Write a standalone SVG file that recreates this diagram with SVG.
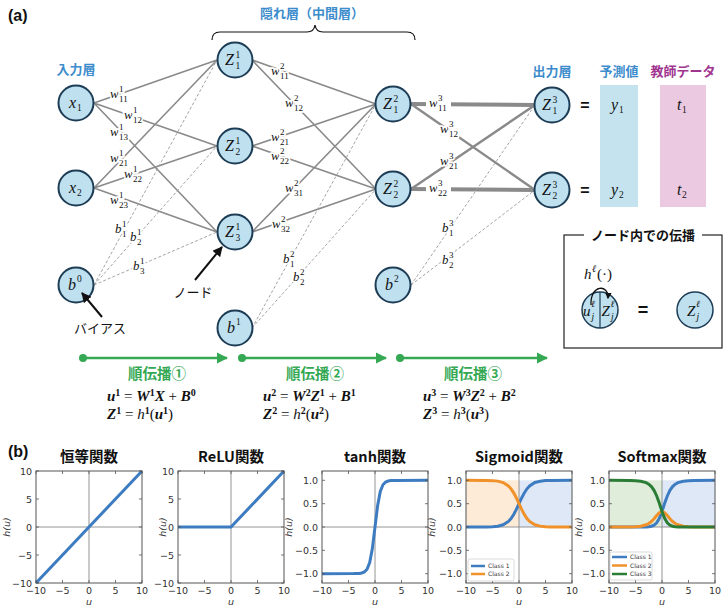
<svg xmlns="http://www.w3.org/2000/svg" width="728" height="610" viewBox="0 0 728 610">
<style>
.m{font-family:"Liberation Serif","DejaVu Serif",serif;font-style:italic;fill:#111}
.nl{font-size:16px}
.s{font-size:9.5px;font-style:normal}
.node circle{fill:#bfe0ef;stroke:#1d3c55;stroke-width:2}
.e1{stroke:#8a8a8a;stroke-width:1.6;fill:none}
.e3{stroke:#8a8a8a;stroke-width:4;fill:none}
.e2{stroke:#8a8a8a;stroke-width:2.4;fill:none}
.ed{stroke:#9a9a9a;stroke-width:0.9;stroke-dasharray:3 2;fill:none}
.wl{font-size:13px;paint-order:stroke;stroke:#fff;stroke-width:3.5;stroke-linejoin:round}
.ws{font-size:9px;font-style:normal}
.jp{font-family:"Noto Sans CJK JP","Noto Sans",sans-serif;font-weight:bold}
.blue{fill:#3d8ccc}
.green{fill:#34a853}
.eq{font-family:"Liberation Serif","DejaVu Serif",serif;font-style:italic;font-weight:bold;font-size:15px;fill:#111}
.p{font-size:10px;font-style:normal}
.o{font-style:normal;font-weight:normal}
.hn{font-weight:normal}
.tk{font-family:"DejaVu Sans",sans-serif;font-size:9.5px;fill:#333}
.ax{fill:none;stroke:#555;stroke-width:1}
.zl{stroke:#888;stroke-width:0.9}
.tick{stroke:#555;stroke-width:0.8}
.cb{fill:none;stroke:#3d7cc0;stroke-width:3}
.co{fill:none;stroke:#f0912a;stroke-width:3}
.cg{fill:none;stroke:#2b7d35;stroke-width:3}
.lg{font-family:"DejaVu Sans",sans-serif;font-size:6px;fill:#333}
.ttl{font-family:"Noto Sans CJK JP","Noto Sans",sans-serif;font-weight:bold;font-size:14.5px;fill:#111}
</style>
<defs>
<marker id="ah" viewBox="0 0 10 10" refX="9" refY="5" markerWidth="5" markerHeight="5" orient="auto"><path d="M0,0 L10,5 L0,10 z" fill="#111"/></marker>
<marker id="ag" viewBox="0 0 10 10" refX="9" refY="5" markerWidth="4.5" markerHeight="4.5" orient="auto"><path d="M0,0 L10,5 L0,10 z" fill="#34a853"/></marker>
<marker id="as" viewBox="0 0 10 10" refX="8" refY="5" markerWidth="5" markerHeight="5" orient="auto"><path d="M0,0 L10,5 L0,10 z" fill="#111"/></marker>
<clipPath id="cp"><rect x="0" y="0" width="106" height="112"/></clipPath>
</defs>

<text x="8" y="21" font-family="Liberation Sans, Arial, sans-serif" font-weight="bold" font-size="16" fill="#111">(a)</text>

<!-- headings -->
<text class="jp blue" x="76" y="74" font-size="13" text-anchor="middle">入力層</text>
<text class="jp blue" x="312" y="18" font-size="13" text-anchor="middle">隠れ層（中間層）</text>
<path d="M212,40 Q212,32 220,32 L307,32 Q314,32 315,25 Q316,32 323,32 L407,32 Q415,32 415,40" fill="none" stroke="#111" stroke-width="1.2"/>
<text class="jp blue" x="552" y="76" font-size="13" text-anchor="middle">出力層</text>
<text class="jp blue" x="619" y="76" font-size="13" text-anchor="middle">予測値</text>
<text class="jp" x="683" y="76" font-size="13" text-anchor="middle" fill="#a0348f">教師データ</text>

<rect x="600" y="85" width="38" height="122" fill="#c5e3ef"/>
<rect x="660" y="85" width="46" height="122" fill="#ebc9e0"/>

<!-- connectors -->
<g id="connectors">
<path class="e1" d="M94,103 L217,60 M94,103 L217,146 M94,103 L217,232 M94,188 L217,60 M94,188 L217,146 M94,188 L217,232"/>
<path class="ed" d="M94,285 L217,60 M94,285 L217,146 M94,285 L217,232"/>
<path class="e1" d="M252,60 L376,104 M252,60 L376,189 M252,146 L376,104 M252,146 L376,189 M252,232 L376,104 M252,232 L376,189"/>
<path class="ed" d="M252,328 L376,104 M252,328 L376,189"/>
<path class="e3" d="M411,104 L535,105 M411,189 L535,190"/>
<path class="e2" d="M411,104 L535,190 M411,189 L535,105"/>
<path class="ed" d="M411,285 L535,105 M411,285 L535,190"/>
<!-- weight labels -->
<text class="m wl" x="110" y="98">w<tspan class="ws" x="119" y="92">1</tspan><tspan class="ws" x="119" y="102">11</tspan></text>
<text class="m wl" x="124" y="119">w<tspan class="ws" x="133" y="113">1</tspan><tspan class="ws" x="133" y="123">12</tspan></text>
<text class="m wl" x="110" y="136">w<tspan class="ws" x="119" y="130">1</tspan><tspan class="ws" x="119" y="140">13</tspan></text>
<text class="m wl" x="110" y="162">w<tspan class="ws" x="119" y="156">1</tspan><tspan class="ws" x="119" y="166">21</tspan></text>
<text class="m wl" x="124" y="178">w<tspan class="ws" x="133" y="172">1</tspan><tspan class="ws" x="133" y="182">22</tspan></text>
<text class="m wl" x="110" y="204">w<tspan class="ws" x="119" y="198">1</tspan><tspan class="ws" x="119" y="208">23</tspan></text>
<text class="m wl" x="115" y="233">b<tspan class="ws" x="122" y="227">1</tspan><tspan class="ws" x="122" y="237">1</tspan></text>
<text class="m wl" x="130" y="241">b<tspan class="ws" x="137" y="235">1</tspan><tspan class="ws" x="137" y="245">2</tspan></text>
<text class="m wl" x="133" y="270">b<tspan class="ws" x="140" y="264">1</tspan><tspan class="ws" x="140" y="274">3</tspan></text>

<text class="m wl" x="271" y="75">w<tspan class="ws" x="280" y="69">2</tspan><tspan class="ws" x="280" y="79">11</tspan></text>
<text class="m wl" x="285" y="107">w<tspan class="ws" x="294" y="101">2</tspan><tspan class="ws" x="294" y="111">12</tspan></text>
<text class="m wl" x="271" y="141">w<tspan class="ws" x="280" y="135">2</tspan><tspan class="ws" x="280" y="145">21</tspan></text>
<text class="m wl" x="271" y="160">w<tspan class="ws" x="280" y="154">2</tspan><tspan class="ws" x="280" y="164">22</tspan></text>
<text class="m wl" x="285" y="192">w<tspan class="ws" x="294" y="186">2</tspan><tspan class="ws" x="294" y="196">31</tspan></text>
<text class="m wl" x="272" y="228">w<tspan class="ws" x="281" y="222">2</tspan><tspan class="ws" x="281" y="232">32</tspan></text>
<text class="m wl" x="283" y="263">b<tspan class="ws" x="290" y="257">2</tspan><tspan class="ws" x="290" y="267">1</tspan></text>
<text class="m wl" x="293" y="281">b<tspan class="ws" x="300" y="275">2</tspan><tspan class="ws" x="300" y="285">2</tspan></text>

<rect x="426" y="95" width="25" height="16" fill="#fff"/>
<rect x="426" y="180" width="25" height="16" fill="#fff"/>
<text class="m wl" x="429" y="107">w<tspan class="ws" x="438" y="101">3</tspan><tspan class="ws" x="438" y="111">11</tspan></text>
<text class="m wl" x="440" y="133">w<tspan class="ws" x="449" y="127">3</tspan><tspan class="ws" x="449" y="137">12</tspan></text>
<text class="m wl" x="440" y="165">w<tspan class="ws" x="449" y="159">3</tspan><tspan class="ws" x="449" y="169">21</tspan></text>
<text class="m wl" x="429" y="192">w<tspan class="ws" x="438" y="186">3</tspan><tspan class="ws" x="438" y="196">22</tspan></text>
<text class="m wl" x="442" y="232">b<tspan class="ws" x="449" y="226">3</tspan><tspan class="ws" x="449" y="236">1</tspan></text>
<text class="m wl" x="442" y="264">b<tspan class="ws" x="449" y="258">3</tspan><tspan class="ws" x="449" y="268">2</tspan></text>
</g>

<!-- nodes -->
<g id="x1" class="node"><circle cx="76" cy="103" r="17.5"/><text class="m nl" x="69" y="108">x<tspan class="s" x="77" y="111">1</tspan></text></g>
<g id="x2" class="node"><circle cx="76" cy="188" r="17.5"/><text class="m nl" x="69" y="193">x<tspan class="s" x="77" y="196">2</tspan></text></g>
<g id="b0" class="node"><circle cx="76" cy="285" r="17.5"/><text class="m nl" x="68" y="290">b<tspan class="s" x="77" y="282">0</tspan></text></g>
<g id="z11" class="node"><circle cx="235" cy="60" r="17.5"/><text class="m nl" x="225" y="65">Z<tspan class="s" x="235.5" y="58">1</tspan><tspan class="s" x="235.5" y="69">1</tspan></text></g>
<g id="z21" class="node"><circle cx="235" cy="146" r="17.5"/><text class="m nl" x="225" y="151">Z<tspan class="s" x="235.5" y="144">1</tspan><tspan class="s" x="235.5" y="155">2</tspan></text></g>
<g id="z31" class="node"><circle cx="235" cy="232" r="17.5"/><text class="m nl" x="225" y="237">Z<tspan class="s" x="235.5" y="230">1</tspan><tspan class="s" x="235.5" y="241">3</tspan></text></g>
<g id="b1" class="node"><circle cx="235" cy="328" r="17.5"/><text class="m nl" x="227" y="333">b<tspan class="s" x="236" y="325">1</tspan></text></g>
<g id="z12" class="node"><circle cx="393" cy="104" r="17.5"/><text class="m nl" x="383" y="109">Z<tspan class="s" x="393.5" y="102">2</tspan><tspan class="s" x="393.5" y="113">1</tspan></text></g>
<g id="z22" class="node"><circle cx="393" cy="189" r="17.5"/><text class="m nl" x="383" y="194">Z<tspan class="s" x="393.5" y="187">2</tspan><tspan class="s" x="393.5" y="198">2</tspan></text></g>
<g id="b2" class="node"><circle cx="393" cy="285" r="17.5"/><text class="m nl" x="385" y="290">b<tspan class="s" x="394" y="282">2</tspan></text></g>
<g id="z13" class="node"><circle cx="552" cy="105" r="17.5"/><text class="m nl" x="542" y="110">Z<tspan class="s" x="552.5" y="103">3</tspan><tspan class="s" x="552.5" y="114">1</tspan></text></g>
<g id="z23" class="node"><circle cx="552" cy="190" r="17.5"/><text class="m nl" x="542" y="195">Z<tspan class="s" x="552.5" y="188">3</tspan><tspan class="s" x="552.5" y="199">2</tspan></text></g>

<!-- outputs -->
<g id="outputs">
<text x="585" y="111" font-family="Liberation Sans, sans-serif" font-weight="bold" font-size="16" text-anchor="middle" fill="#111">=</text>
<text x="585" y="196" font-family="Liberation Sans, sans-serif" font-weight="bold" font-size="16" text-anchor="middle" fill="#111">=</text>
<text class="m nl" x="611" y="110">y<tspan class="s" x="619" y="113">1</tspan></text>
<text class="m nl" x="611" y="195">y<tspan class="s" x="619" y="198">2</tspan></text>
<text class="m nl" x="677" y="110">t<tspan class="s" x="682" y="113">1</tspan></text>
<text class="m nl" x="677" y="195">t<tspan class="s" x="682" y="198">2</tspan></text>
</g>

<!-- annotations -->
<g id="ann-node">
<line x1="195" y1="280" x2="222" y2="247" stroke="#111" stroke-width="2" marker-end="url(#ah)"/>
<text x="193" y="297" font-family="Noto Sans CJK JP, sans-serif" font-size="13" text-anchor="middle" fill="#111">ノード</text>
</g>
<g id="ann-bias">
<line x1="102" y1="317" x2="82" y2="293" stroke="#111" stroke-width="2" marker-end="url(#ah)"/>
<text x="100" y="333" font-family="Noto Sans CJK JP, sans-serif" font-size="13" text-anchor="middle" fill="#111">バイアス</text>
</g>

<!-- node inner box -->
<g id="node-box">
<rect x="564" y="235" width="158" height="113" fill="none" stroke="#222" stroke-width="1.2"/>
<rect x="584" y="227" width="118" height="16" fill="#fff"/>
<text x="643" y="240" font-family="Noto Sans CJK JP, sans-serif" font-weight="bold" font-size="13" text-anchor="middle" fill="#111">ノード内での伝播</text>
<text class="m" x="584" y="279" font-size="15">h<tspan font-size="10" x="592" y="272">ℓ</tspan><tspan font-style="normal" x="597" y="279">(·)</tspan></text>
<circle cx="600" cy="310" r="18" fill="#bfe0ef" stroke="#1d3c55" stroke-width="1.5"/>
<line x1="600" y1="292" x2="600" y2="328" stroke="#1d3c55" stroke-width="1.2"/>
<path d="M591,305 C590,284 609,284 608,298" fill="none" stroke="#111" stroke-width="1.3" marker-end="url(#as)"/>
<text class="m" x="583" y="316" font-size="15">u<tspan font-size="9.5" x="591" y="307">ℓ</tspan><tspan font-size="9.5" x="591.5" y="320">j</tspan></text>
<text class="m" x="601.5" y="316" font-size="15">Z<tspan font-size="9.5" x="610.5" y="307">ℓ</tspan><tspan font-size="9.5" x="611" y="320">j</tspan></text>
<text x="643" y="316" font-family="Liberation Sans, sans-serif" font-weight="bold" font-size="18" text-anchor="middle" fill="#111">=</text>
<circle cx="695" cy="310" r="18" fill="#bfe0ef" stroke="#1d3c55" stroke-width="1.5"/>
<text class="m" x="687" y="316" font-size="15">Z<tspan font-size="9.5" x="696" y="307">ℓ</tspan><tspan font-size="9.5" x="696.5" y="320">j</tspan></text>
</g>

<!-- forward propagation -->
<g id="fp1">
<circle cx="83" cy="358" r="4" fill="#34a853"/>
<line x1="83" y1="358" x2="227" y2="358" stroke="#34a853" stroke-width="2.5" marker-end="url(#ag)"/>
<text class="jp green" x="157" y="379" font-size="14.5" text-anchor="middle">順伝播①</text>
<text class="eq" x="107" y="401">u<tspan class="p" dy="-5">1</tspan><tspan class="o" dy="5"> = </tspan>W<tspan class="p" dy="-5">1</tspan><tspan dy="5">X</tspan><tspan class="o"> + </tspan>B<tspan class="p" dy="-5">0</tspan></text>
<text class="eq" x="107" y="419">Z<tspan class="p" dy="-5">1</tspan><tspan class="o" dy="5"> = </tspan><tspan class="hn">h</tspan><tspan class="p" dy="-5">1</tspan><tspan class="o" dy="5">(</tspan>u<tspan class="p" dy="-5">1</tspan><tspan class="o" dy="5">)</tspan></text>
</g>
<g id="fp2">
<circle cx="242" cy="358" r="4" fill="#34a853"/>
<line x1="242" y1="358" x2="386" y2="358" stroke="#34a853" stroke-width="2.5" marker-end="url(#ag)"/>
<text class="jp green" x="315" y="379" font-size="14.5" text-anchor="middle">順伝播②</text>
<text class="eq" x="263" y="401">u<tspan class="p" dy="-5">2</tspan><tspan class="o" dy="5"> = </tspan>W<tspan class="p" dy="-5">2</tspan><tspan dy="5">Z</tspan><tspan class="p" dy="-5">1</tspan><tspan class="o" dy="5"> + </tspan>B<tspan class="p" dy="-5">1</tspan></text>
<text class="eq" x="263" y="419">Z<tspan class="p" dy="-5">2</tspan><tspan class="o" dy="5"> = </tspan><tspan class="hn">h</tspan><tspan class="p" dy="-5">2</tspan><tspan class="o" dy="5">(</tspan>u<tspan class="p" dy="-5">2</tspan><tspan class="o" dy="5">)</tspan></text>
</g>
<g id="fp3">
<circle cx="400" cy="358" r="4" fill="#34a853"/>
<line x1="400" y1="358" x2="547" y2="358" stroke="#34a853" stroke-width="2.5" marker-end="url(#ag)"/>
<text class="jp green" x="473" y="379" font-size="14.5" text-anchor="middle">順伝播③</text>
<text class="eq" x="423" y="401">u<tspan class="p" dy="-5">3</tspan><tspan class="o" dy="5"> = </tspan>W<tspan class="p" dy="-5">3</tspan><tspan dy="5">Z</tspan><tspan class="p" dy="-5">2</tspan><tspan class="o" dy="5"> + </tspan>B<tspan class="p" dy="-5">2</tspan></text>
<text class="eq" x="423" y="419">Z<tspan class="p" dy="-5">3</tspan><tspan class="o" dy="5"> = </tspan><tspan class="hn">h</tspan><tspan class="p" dy="-5">3</tspan><tspan class="o" dy="5">(</tspan>u<tspan class="p" dy="-5">3</tspan><tspan class="o" dy="5">)</tspan></text>
</g>

<!-- (b) plots -->
<text x="8" y="457" font-family="Liberation Sans, Arial, sans-serif" font-weight="bold" font-size="16" fill="#111">(b)</text>

<g id="plot-identity" transform="translate(36,471)">
<text class="ttl" x="53" y="-9" text-anchor="middle">恒等関数</text>
<line class="zl" x1="53" y1="0" x2="53" y2="112" stroke="#aaa"/>
<line class="zl" x1="0" y1="56" x2="106" y2="56"/>
<line class="cb" x1="0" y1="112" x2="106" y2="0"/>
<rect class="ax" x="0" y="0" width="106" height="112"/>
<path class="tick" d="M0,112v-3M26.5,112v-3M53,112v-3M79.5,112v-3M106,112v-3M0,0v3M26.5,0v3M53,0v3M79.5,0v3M106,0v3M0,0h3M0,28h3M0,56h3M0,84h3M0,112h3M106,0h-3M106,28h-3M106,56h-3M106,84h-3M106,112h-3"/>
<g class="tk" text-anchor="end"><text x="-4" y="3.5">10</text><text x="-4" y="31.5">5</text><text x="-4" y="59.5">0</text><text x="-4" y="87.5">−5</text><text x="-4" y="115.5">−10</text></g>
<g class="tk" text-anchor="middle"><text x="0" y="123">−10</text><text x="26.5" y="123">−5</text><text x="53" y="123">0</text><text x="79.5" y="123">5</text><text x="106" y="123">10</text><text x="53" y="134" font-style="italic">u</text></g>
<text class="tk" transform="translate(-26,56) rotate(-90)" text-anchor="middle" font-style="italic">h(u)</text>
</g>

<g id="plot-relu" transform="translate(178,471)">
<text class="ttl" x="53" y="-9" text-anchor="middle">ReLU関数</text>
<line class="zl" x1="53" y1="0" x2="53" y2="112"/>
<line class="zl" x1="0" y1="56" x2="106" y2="56"/>
<polyline class="cb" points="0,56 53,56 106,0"/>
<rect class="ax" x="0" y="0" width="106" height="112"/>
<path class="tick" d="M0,112v-3M26.5,112v-3M53,112v-3M79.5,112v-3M106,112v-3M0,0v3M26.5,0v3M53,0v3M79.5,0v3M106,0v3M0,0h3M0,28h3M0,56h3M0,84h3M0,112h3M106,0h-3M106,28h-3M106,56h-3M106,84h-3M106,112h-3"/>
<g class="tk" text-anchor="end"><text x="-4" y="3.5">10</text><text x="-4" y="31.5">5</text><text x="-4" y="59.5">0</text><text x="-4" y="87.5">−5</text><text x="-4" y="115.5">−10</text></g>
<g class="tk" text-anchor="middle"><text x="0" y="123">−10</text><text x="26.5" y="123">−5</text><text x="53" y="123">0</text><text x="79.5" y="123">5</text><text x="106" y="123">10</text><text x="53" y="134" font-style="italic">u</text></g>
<text class="tk" transform="translate(-12,56) rotate(-90)" text-anchor="middle" font-style="italic">h(u)</text>
</g>

<g id="plot-tanh" transform="translate(322,471)">
<text class="ttl" x="53" y="-9" text-anchor="middle">tanh関数</text>
<line class="zl" x1="53" y1="0" x2="53" y2="112"/>
<line class="zl" x1="0" y1="56" x2="106" y2="56"/>
<polyline class="cb" clip-path="url(#cp)" points="0,102.7 31.8,102.6 37.1,102.4 39.75,102.0 42.4,101.0 45.05,98.2 47.7,91.5 50.35,77.6 53,56 55.65,34.4 58.3,20.5 60.95,13.8 63.6,11.0 66.25,10.0 68.9,9.6 74.2,9.4 106,9.3"/>
<rect class="ax" x="0" y="0" width="106" height="112"/>
<path class="tick" d="M0,112v-3M26.5,112v-3M53,112v-3M79.5,112v-3M106,112v-3M0,0v3M26.5,0v3M53,0v3M79.5,0v3M106,0v3M0,9.3h3M0,32.7h3M0,56h3M0,79.3h3M0,102.7h3M106,9.3h-3M106,32.7h-3M106,56h-3M106,79.3h-3M106,102.7h-3"/>
<g class="tk" text-anchor="end"><text x="-4" y="12.8">1.0</text><text x="-4" y="36.2">0.5</text><text x="-4" y="59.5">0.0</text><text x="-4" y="82.8">−0.5</text><text x="-4" y="106.2">−1.0</text></g>
<g class="tk" text-anchor="middle"><text x="0" y="123">−10</text><text x="26.5" y="123">−5</text><text x="53" y="123">0</text><text x="79.5" y="123">5</text><text x="106" y="123">10</text><text x="53" y="134" font-style="italic">u</text></g>
<text class="tk" transform="translate(-30,56) rotate(-90)" text-anchor="middle" font-style="italic">h(u)</text>
</g>

<g id="plot-sigmoid" transform="translate(466,471)">
<text class="ttl" x="53" y="-9" text-anchor="middle">Sigmoid関数</text>
<rect x="0" y="9.33" width="53" height="46.67" fill="#fdebd8"/>
<rect x="53" y="9.33" width="53" height="46.67" fill="#dfe8f7"/>
<line class="zl" x1="53" y1="0" x2="53" y2="112"/>
<line class="zl" x1="0" y1="56" x2="106" y2="56"/>
<polyline class="cb" clip-path="url(#cp)" points="0,56 21.2,55.9 26.5,55.7 31.8,55.2 37.1,53.8 42.4,50.4 45.05,47.5 47.7,43.45 50.35,38.4 53,32.7 55.65,26.95 58.3,21.9 60.95,17.8 63.6,14.9 68.9,11.5 74.2,10.2 79.5,9.6 84.8,9.45 106,9.33"/>
<polyline class="co" clip-path="url(#cp)" points="0,9.33 21.2,9.43 26.5,9.63 31.8,10.13 37.1,11.53 42.4,14.93 45.05,17.83 47.7,21.88 50.35,26.93 53,32.63 55.65,38.38 58.3,43.43 60.95,47.53 63.6,50.43 68.9,53.83 74.2,55.13 79.5,55.73 84.8,55.88 106,56"/>
<rect class="ax" x="0" y="0" width="106" height="112"/>
<path class="tick" d="M0,112v-3M26.5,112v-3M53,112v-3M79.5,112v-3M106,112v-3M0,0v3M26.5,0v3M53,0v3M79.5,0v3M106,0v3M0,9.3h3M0,32.7h3M0,56h3M0,79.3h3M0,102.7h3M106,9.3h-3M106,32.7h-3M106,56h-3M106,79.3h-3M106,102.7h-3"/>
<g class="tk" text-anchor="end"><text x="-4" y="12.8">1.0</text><text x="-4" y="36.2">0.5</text><text x="-4" y="59.5">0.0</text><text x="-4" y="82.8">−0.5</text><text x="-4" y="106.2">−1.0</text></g>
<g class="tk" text-anchor="middle"><text x="0" y="123">−10</text><text x="26.5" y="123">−5</text><text x="53" y="123">0</text><text x="79.5" y="123">5</text><text x="106" y="123">10</text><text x="53" y="134" font-style="italic">u</text></g>
<text class="tk" transform="translate(-31,56) rotate(-90)" text-anchor="middle" font-style="italic">h(u)</text>
<rect x="2" y="88" width="46" height="22" rx="2" fill="#fff" stroke="#ccc" stroke-width="0.7"/>
<line x1="5" y1="95" x2="19" y2="95" stroke="#3d7cc0" stroke-width="2.5"/>
<line x1="5" y1="103" x2="19" y2="103" stroke="#f0912a" stroke-width="2.5"/>
<text class="lg" x="22" y="97.2">Class 1</text>
<text class="lg" x="22" y="105.2">Class 2</text>
</g>

<g id="plot-softmax" transform="translate(609,471)">
<text class="ttl" x="53" y="-9" text-anchor="middle">Softmax関数</text>
<rect x="0" y="9.33" width="53" height="46.67" fill="#e0eddb"/>
<rect x="53" y="9.33" width="53" height="46.67" fill="#dfe8f7"/>
<line class="zl" x1="53" y1="0" x2="53" y2="112"/>
<line class="zl" x1="0" y1="56" x2="106" y2="56"/>
<polyline class="cb" clip-path="url(#cp)" points="0,56 31.8,56 37.1,55.89 39.75,55.71 42.4,55.26 45.05,54.18 47.7,51.8 50.35,47.31 53,40.44 55.65,32.36 58.3,24.96 60.95,19.34 63.6,15.55 66.25,13.14 68.9,11.65 74.2,10.18 79.5,9.64 84.8,9.45 106,9.33"/>
<polyline class="co" clip-path="url(#cp)" points="0,56 21.2,55.88 26.5,55.69 31.8,55.16 37.1,53.79 39.75,52.48 42.4,50.53 45.05,47.82 47.7,44.58 50.35,41.66 53,40.44 55.65,41.66 58.3,44.58 60.95,47.82 63.6,50.53 66.25,52.48 68.9,53.79 74.2,55.16 79.5,55.69 84.8,55.88 106,56"/>
<polyline class="cg" clip-path="url(#cp)" points="0,9.33 21.2,9.45 26.5,9.64 31.8,10.18 37.1,11.65 39.75,13.14 42.4,15.55 45.05,19.34 47.7,24.96 50.35,32.36 53,40.44 55.65,47.31 58.3,51.8 60.95,54.18 63.6,55.26 66.25,55.71 68.9,55.89 74.2,56 106,56"/>
<rect class="ax" x="0" y="0" width="106" height="112"/>
<path class="tick" d="M0,112v-3M26.5,112v-3M53,112v-3M79.5,112v-3M106,112v-3M0,0v3M26.5,0v3M53,0v3M79.5,0v3M106,0v3M0,9.3h3M0,32.7h3M0,56h3M0,79.3h3M0,102.7h3M106,9.3h-3M106,32.7h-3M106,56h-3M106,79.3h-3M106,102.7h-3"/>
<g class="tk" text-anchor="end"><text x="-4" y="12.8">1.0</text><text x="-4" y="36.2">0.5</text><text x="-4" y="59.5">0.0</text><text x="-4" y="82.8">−0.5</text><text x="-4" y="106.2">−1.0</text></g>
<g class="tk" text-anchor="middle"><text x="0" y="123">−10</text><text x="26.5" y="123">−5</text><text x="53" y="123">0</text><text x="79.5" y="123">5</text><text x="106" y="123">10</text><text x="53" y="134" font-style="italic">u</text></g>
<text class="tk" transform="translate(-27,56) rotate(-90)" text-anchor="middle" font-style="italic">h(u)</text>
<rect x="1" y="81" width="42" height="28" rx="2" fill="#fff" stroke="#ccc" stroke-width="0.7"/>
<line x1="3" y1="86" x2="18" y2="86" stroke="#3d7cc0" stroke-width="2.5"/>
<line x1="3" y1="94.5" x2="18" y2="94.5" stroke="#f0912a" stroke-width="2.5"/>
<line x1="3" y1="103" x2="18" y2="103" stroke="#2b7d35" stroke-width="2.5"/>
<text class="lg" x="21" y="88.2">Class 1</text>
<text class="lg" x="21" y="96.7">Class 2</text>
<text class="lg" x="21" y="105.2">Class 3</text>
</g>
</svg>
